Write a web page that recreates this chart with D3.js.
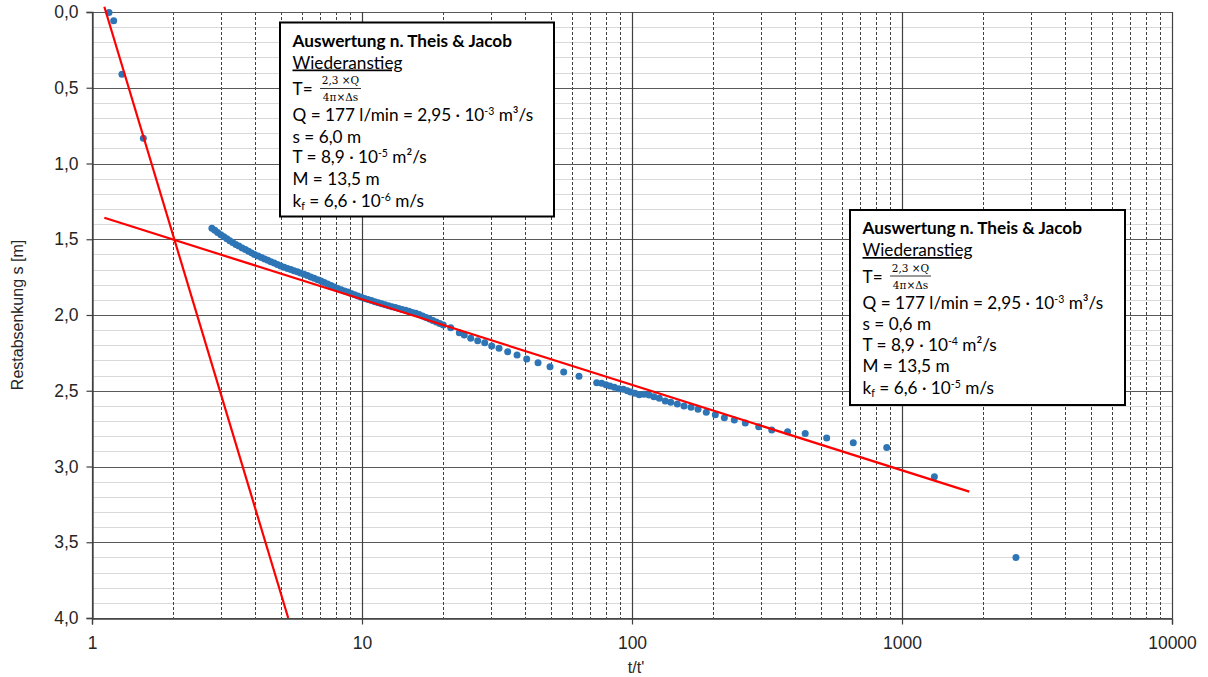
<!DOCTYPE html>
<html><head><meta charset="utf-8">
<script src="https://cdn.jsdelivr.net/npm/d3@7"></script>
<style>body{margin:0;background:#fff}svg{display:block}</style>
</head><body>
<svg id="c" width="1208" height="677"></svg>
<script>
// ---- data ----
const ratio = [1.156,1.203,1.291,1.549,
 2.78,2.85,2.92,3.00,3.08,3.16,3.24,3.32,3.41,3.50,3.60,3.70,3.80,3.90,4.00,4.12,4.24,4.36,4.48,4.60,4.73,4.86,5.00,5.15,5.30,5.45,5.60,5.76,5.92,6.10,6.28,6.46,6.65,6.85,7.05,7.25,7.46,7.68,7.90,8.13,8.37,8.61,8.86,9.12,9.39,9.66,9.94,10.23,10.53,10.84,11.16,11.49,11.83,12.18,12.54,12.91,13.29,13.68,14.08,14.50,14.93,15.37,15.82,16.29,16.77,17.27,17.78,18.30,18.84,19.40,20.00,
 21.31,22.93,23.92,25.27,26.82,28.48,30.22,32.17,34.64,37.52,40.74,44.87,49.7,55.85,63.64,
 74.0,77.2,80.1,82.9,86.0,89.3,92.9,96.1,98.9,102.6,106.4,110.8,115.6,120.6,126.2,132.8,139.1,147.2,155.8,165.4,175.6,188.4,203.5,219.8,239.3,262.8,294.6,329.3,
 377,438,526,660,878,1318,2643];
const drawdown = [0.004,0.057,0.411,0.834,
 1.427,1.441,1.455,1.470,1.484,1.497,1.510,1.522,1.534,1.545,1.557,1.568,1.579,1.590,1.600,1.611,1.620,1.630,1.639,1.648,1.657,1.667,1.676,1.685,1.693,1.700,1.708,1.715,1.723,1.731,1.740,1.749,1.758,1.767,1.776,1.786,1.795,1.805,1.815,1.825,1.833,1.841,1.849,1.858,1.866,1.875,1.883,1.891,1.898,1.905,1.912,1.919,1.926,1.933,1.939,1.945,1.951,1.957,1.963,1.969,1.976,1.983,1.989,1.996,2.006,2.016,2.026,2.036,2.046,2.056,2.066,
 2.084,2.117,2.132,2.154,2.170,2.183,2.205,2.220,2.242,2.264,2.290,2.315,2.341,2.376,2.405,
 2.447,2.451,2.460,2.469,2.477,2.486,2.490,2.500,2.508,2.517,2.526,2.523,2.528,2.539,2.550,2.568,2.576,2.587,2.601,2.609,2.622,2.642,2.658,2.678,2.693,2.713,2.737,2.759,
 2.770,2.783,2.812,2.843,2.874,3.067,3.600];
const fitSteepX = [1.111, 5.33];
const fitSteepS = [-0.035, 4.0];
const fitFlatX = [1.111, 1775];
const fitFlatS = [1.358, 3.166];
const xTicks = [1, 10, 100, 1000, 10000];
const yTicks = [0, 0.5, 1.0, 1.5, 2.0, 2.5, 3.0, 3.5, 4.0];
const xTitle = "t/t'";
const yTitle = "Restabsenkung s [m]";
const box1Lines = {title:"Auswertung n. Theis & Jacob", sub:"Wiederanstieg", num:"2,3 ×Q", den:"4π×Δs",
  q:["Q = 177 l/min = 2,95 · 10","-3","  m³/s"], s:"s = 6,0 m", t:["T = 8,9 · 10","-5"," m²/s"], m:"M = 13,5 m", k:["k","f"," = 6,6 · 10","-6"," m/s"]};
const box2Lines = {title:"Auswertung n. Theis & Jacob", sub:"Wiederanstieg", num:"2,3 ×Q", den:"4π×Δs",
  q:["Q = 177 l/min = 2,95 · 10","-3","  m³/s"], s:"s = 0,6 m", t:["T = 8,9 · 10","-4"," m²/s"], m:"M = 13,5 m", k:["k","f"," = 6,6 · 10","-5"," m/s"]};

// ---- layout ----
const L = 92, R = 1172, T = 12, B = 618;
const svg = d3.select("#c");
const x = d3.scaleLog().domain([1, 10000]).range([L, R]);
const y = d3.scaleLinear().domain([0, 4]).range([T, B]);

// minor horizontal grid
const yMinor = d3.range(1, 40).map(i => i / 10).filter(v => Math.abs(v * 2 - Math.round(v * 2)) > 1e-6);
svg.append("g").selectAll("line").data(yMinor).join("line")
  .attr("x1", L).attr("x2", R).attr("y1", d => Math.round(y(d)) + 0.5).attr("y2", d => Math.round(y(d)) + 0.5)
  .attr("stroke", "#d9d9d9").attr("stroke-width", 1.2);
// minor vertical grid (dashed)
const xMinor = [];
[1, 10, 100, 1000].forEach(dec => { for (let k = 2; k <= 9; k++) xMinor.push(dec * k); });
svg.append("g").selectAll("line").data(xMinor).join("line")
  .attr("x1", d => Math.round(x(d)) + 0.5).attr("x2", d => Math.round(x(d)) + 0.5).attr("y1", T).attr("y2", B)
  .attr("stroke", "#404040").attr("stroke-width", 1).attr("stroke-dasharray", "3,2");
// major grid
svg.append("g").selectAll("line").data(yTicks).join("line")
  .attr("x1", L).attr("x2", R).attr("y1", d => Math.round(y(d)) + 0.5).attr("y2", d => Math.round(y(d)) + 0.5)
  .attr("stroke", "#595959").attr("stroke-width", 1.2);
svg.append("g").selectAll("line").data(xTicks).join("line")
  .attr("x1", d => Math.round(x(d)) + 0.5).attr("x2", d => Math.round(x(d)) + 0.5).attr("y1", T).attr("y2", B)
  .attr("stroke", "#404040").attr("stroke-width", 1.2);

// axes
const yAxis = svg.append("g").attr("transform", `translate(${L + 0.5},0)`)
  .call(d3.axisLeft(y).tickValues(yTicks).tickSize(6).tickPadding(8).tickFormat(d => d.toFixed(1).replace(".", ",")));
const xAxis = svg.append("g").attr("transform", `translate(0,${B + 0.5})`)
  .call(d3.axisBottom(x).tickValues(xTicks).tickSize(6).tickPadding(12).tickFormat(d3.format("d")));
[yAxis, xAxis].forEach(g => {
  g.select(".domain").attr("stroke", "#404040").attr("stroke-width", 1.3);
  g.selectAll(".tick line").attr("stroke", "#404040").attr("stroke-width", 1.2);
  g.selectAll("text").attr("fill", "#262626").style("font-family", "'Liberation Sans', Arial, sans-serif").style("font-size", "17.5px");
});

// titles
svg.append("text").attr("x", 636).attr("y", 673).attr("text-anchor", "middle")
  .style("font-family", "'Liberation Sans', Arial, sans-serif").style("font-size", "16px").attr("fill", "#262626").text(xTitle);
svg.append("text").attr("transform", "translate(23,315) rotate(-90)").attr("text-anchor", "middle")
  .style("font-family", "'Liberation Sans', Arial, sans-serif").style("font-size", "16px").attr("fill", "#262626").text(yTitle);

// points
svg.append("g").selectAll("circle").data(ratio.map((r, i) => [r, drawdown[i]])).join("circle")
  .attr("cx", d => x(d[0])).attr("cy", d => y(d[1])).attr("r", 3.5).attr("fill", "#2e75b6");

// fit lines
const ln = d3.line().x(d => x(d[0])).y(d => y(d[1]));
svg.append("path").attr("d", ln(fitSteepX.map((v, i) => [v, fitSteepS[i]])))
  .attr("stroke", "#ff0000").attr("stroke-width", 2.2).attr("fill", "none");
svg.append("path").attr("d", ln(fitFlatX.map((v, i) => [v, fitFlatS[i]])))
  .attr("stroke", "#ff0000").attr("stroke-width", 2.2).attr("fill", "none");

// annotation boxes
function box(bx, by, bw, bh, c) {
  const g = svg.append("g").attr("transform", `translate(${bx},${by})`);
  g.append("rect").attr("x", 0).attr("y", 0).attr("width", bw).attr("height", bh)
    .attr("fill", "#fff").attr("stroke", "#000").attr("stroke-width", 2);
  const fx = 12.5, fs = 17.2;
  const tx = (yy, bold) => g.append("text").attr("x", fx).attr("y", yy)
    .style("font-family", "Lato, 'Open Sans', sans-serif").style("font-size", fs + "px")
    .style("font-weight", bold ? "bold" : "normal").attr("fill", "#000");
  tx(24, true).text(c.title);
  tx(46).attr("text-decoration", "underline").text(c.sub);
  tx(72.5).text("T=");
  const ff = "'DejaVu Serif', 'Liberation Serif', serif";
  g.append("text").attr("x", 60.5).attr("y", 61.5).attr("text-anchor", "middle")
    .style("font-family", ff).style("font-size", "10.5px").text(c.num);
  g.append("text").attr("x", 60.5).attr("y", 78.5).attr("text-anchor", "middle")
    .style("font-family", ff).style("font-size", "10.5px").text(c.den);
  g.append("line").attr("x1", 40).attr("x2", 81).attr("y1", 66).attr("y2", 66).attr("stroke", "#000").attr("stroke-width", 0.8);
  const sup = (t, parts, subIdx) => {
    parts.forEach((p, i) => {
      const isSup = (!subIdx && i === 1) || (subIdx && i === 3);
      const isSub = subIdx && i === 1;
      const sp = t.append("tspan").text(p);
      if (isSup) sp.attr("dy", -6).style("font-size", "10.5px");
      else if (isSub) sp.attr("dy", 3).style("font-size", "10.5px");
      else if (i > 0) sp.attr("dy", (subIdx && i === 2) ? -3 : 6);
    });
  };
  sup(tx(98.5), c.q, false);
  tx(120).text(c.s);
  sup(tx(140.5), c.t, false);
  tx(162).text(c.m);
  sup(tx(184), c.k, true);
}
box(280, 22.5, 274, 194, box1Lines);
box(850, 210, 275, 195, box2Lines);
</script>
</body></html>
